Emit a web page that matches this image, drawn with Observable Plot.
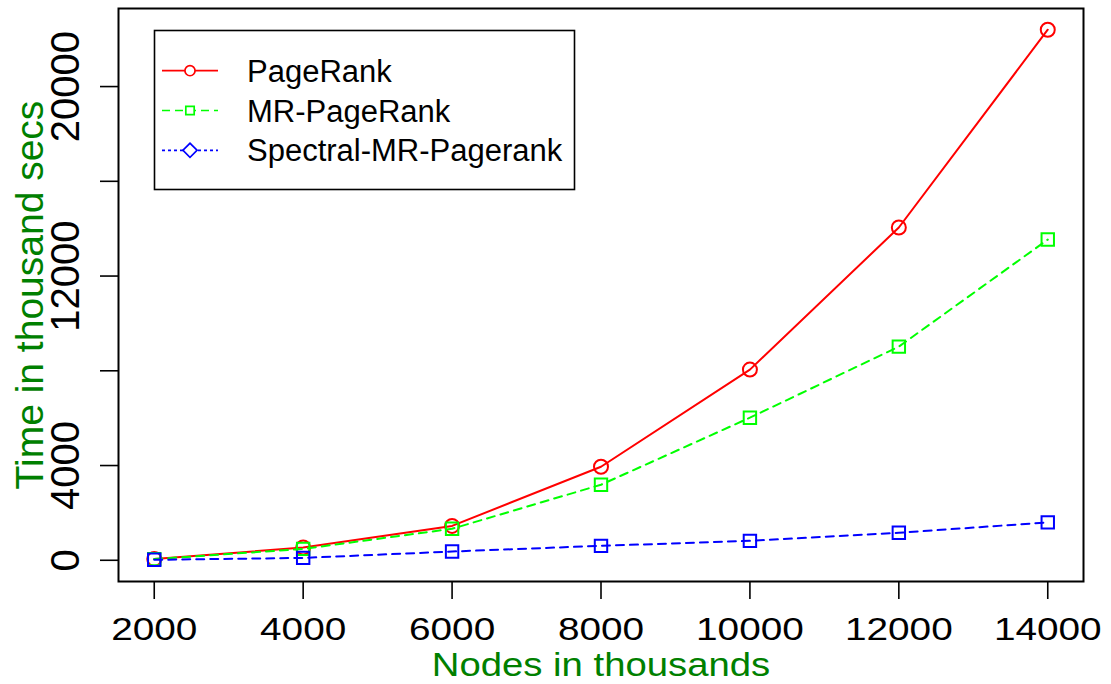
<!DOCTYPE html>
<html><head><meta charset="utf-8">
<script src="https://cdn.jsdelivr.net/npm/d3@7"></script>
<script src="https://cdn.jsdelivr.net/npm/@observablehq/plot@0.6"></script>
<style>
body{margin:0;background:#fff;}
#wrap{position:relative;width:1111px;height:684px;font-family:"Liberation Sans",Arial,sans-serif;}
#legend{position:absolute;left:0;top:0;pointer-events:none;}
</style></head><body><div id="wrap"></div>
<script>
// ---- data ----
const nodes = [2000, 4000, 6000, 8000, 10000, 12000, 14000];
const pageRank = [50, 540, 1450, 3950, 8050, 14050, 22400];
const mrPageRank = [50, 480, 1330, 3190, 6020, 9020, 13540];
const spectralMR = [20, 100, 370, 610, 820, 1160, 1600];
const seriesNames = ["PageRank", "MR-PageRank", "Spectral-MR-Pagerank"];
const xTicks = [2000, 4000, 6000, 8000, 10000, 12000, 14000];
const yTicks = [0, 4000, 8000, 12000, 16000, 20000];
const yTickLabels = [0, 4000, 12000, 20000];
const xTitle = "Nodes in thousands";
const yTitle = "Time in thousand secs";

// ---- build tables ----
const toRows = (vals) => nodes.map((n, i) => ({x: n, y: vals[i]}));
const pr = toRows(pageRank), mr = toRows(mrPageRank), sp = toRows(spectralMR);

const xmin = d3.min(nodes), xmax = d3.max(nodes);
const yvals = [...pageRank, ...mrPageRank, ...spectralMR];
const ymin = Math.min(0, d3.min(yvals)), ymax = d3.max(yvals);
const px = 0.04 * (xmax - xmin), py = 0.04 * (ymax - ymin);

const GREEN_TXT = "#008000";
const RED = "#ff0000", GREEN = "#00ff00", BLUE = "#0000ff";

const chart = Plot.plot({
  width: 1111, height: 684,
  marginLeft: 118, marginRight: 28, marginTop: 8, marginBottom: 103,
  style: {fontFamily: '"Liberation Sans", Arial, sans-serif', background: "white", color: "black"},
  x: {domain: [xmin - px, xmax + px]},
  y: {domain: [ymin - py, ymax + py]},
  marks: [
    Plot.axisX({ticks: xTicks, tickSize: 18, tickPadding: 18, fontSize: 31, strokeWidth: 1.6,
                tickFormat: d => String(d), label: null}),
    Plot.axisY({ticks: yTicks, tickSize: 18, strokeWidth: 1.6, tickFormat: () => "", label: null}),
    Plot.text(yTickLabels, {y: d => d, text: d => String(d), frameAnchor: "left", dx: -40,
                rotate: -90, textAnchor: "middle", lineAnchor: "bottom", fontSize: 40, fill: "black"}),
    Plot.text([xTitle], {text: d => d, frameAnchor: "bottom", dy: 94, lineAnchor: "bottom",
                fontSize: 33, fill: GREEN_TXT}),
    Plot.text([yTitle], {text: d => d, frameAnchor: "left", dx: -76, rotate: -90,
                textAnchor: "middle", lineAnchor: "bottom", fontSize: 39, fill: GREEN_TXT}),
    Plot.line(pr, {x: "x", y: "y", stroke: RED, strokeWidth: 2}),
    Plot.dot(pr, {x: "x", y: "y", symbol: "circle", r: 7, stroke: RED, strokeWidth: 2, fill: "none"}),
    Plot.line(mr, {x: "x", y: "y", stroke: GREEN, strokeWidth: 2, strokeDasharray: "8,6"}),
    Plot.dot(mr, {x: "x", y: "y", symbol: "square", r: 7, stroke: GREEN, strokeWidth: 2, fill: "none"}),
    Plot.line(sp, {x: "x", y: "y", stroke: BLUE, strokeWidth: 2, strokeDasharray: "8,6"}),
    Plot.dot(sp, {x: "x", y: "y", symbol: "square", r: 7, stroke: BLUE, strokeWidth: 2, fill: "none"}),
    Plot.frame({stroke: "black", strokeWidth: 2})
  ]
});
const wrap = document.getElementById("wrap");
wrap.appendChild(chart);

// horizontal stretch of axis texts to mimic reference proportions
function stretchEl(t, k) {
  const L = t.getComputedTextLength();
  t.setAttribute("textLength", L * k);
  t.setAttribute("lengthAdjust", "spacingAndGlyphs");
}
chart.querySelectorAll('g[aria-label="x-axis tick label"] text').forEach(t => stretchEl(t, 1.25));
chart.querySelectorAll('text').forEach(t => { if (t.textContent === xTitle) stretchEl(t, 1.16); });

// ---- legend ----
const legendItems = [
  {name: seriesNames[0], color: RED, dash: null, sym: "circle"},
  {name: seriesNames[1], color: GREEN, dash: "8,5", sym: "square"},
  {name: seriesNames[2], color: BLUE, dash: "3,3", sym: "diamond"}
];
const lg = d3.select(wrap).append("svg").attr("id", "legend").attr("width", 1111).attr("height", 684);
lg.append("rect").attr("x", 154.5).attr("y", 30.5).attr("width", 420).attr("height", 159)
  .attr("fill", "white").attr("stroke", "black").attr("stroke-width", 1.6);
const rowY = [70.7, 110.5, 150.3];
legendItems.forEach((it, i) => {
  const y = rowY[i];
  const g = lg.append("g");
  g.append("line").attr("x1", 162).attr("x2", 218).attr("y1", y).attr("y2", y)
    .attr("stroke", it.color).attr("stroke-width", 1.7)
    .attr("stroke-dasharray", it.dash);
  const isDia = it.sym === "diamond";
  const sym = it.sym === "circle" ? d3.symbolCircle : d3.symbolSquare;
  const size = it.sym === "circle" ? 80 : it.sym === "square" ? 70 : 100;
  g.append("path").attr("d", d3.symbol(sym, size)())
    .attr("transform", `translate(190,${y})${isDia ? " rotate(45)" : ""}`)
    .attr("fill", "white").attr("stroke", it.color).attr("stroke-width", 1.7);
  g.append("text").attr("x", 247).attr("y", y + 11).attr("font-size", 31)
    .attr("font-family", '"Liberation Sans", Arial, sans-serif').attr("fill", "black").text(it.name);
});
</script></body></html>
